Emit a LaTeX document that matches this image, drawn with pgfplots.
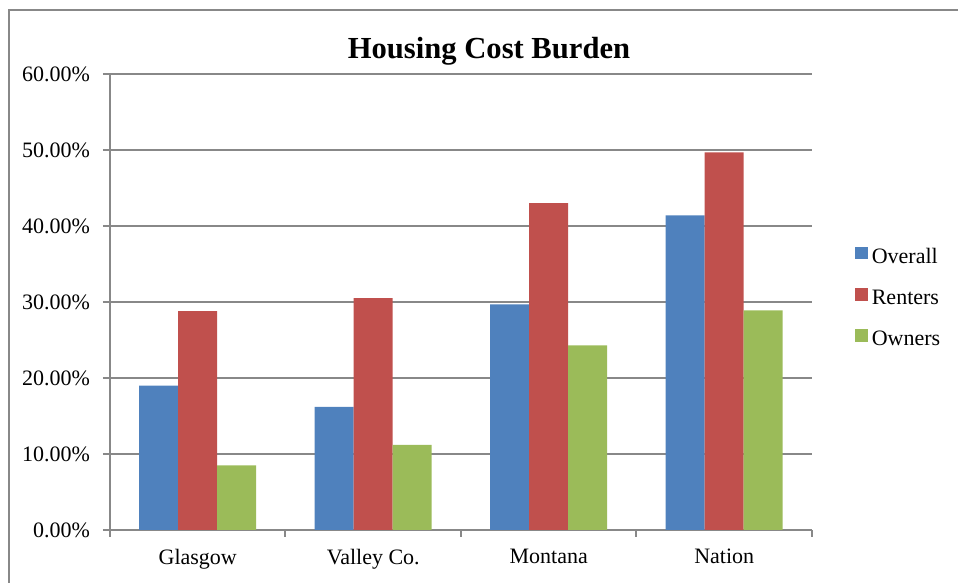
\documentclass[border=0pt]{standalone}
\usepackage{fontspec}
\setmainfont{Liberation Serif}
\usepackage{pgfplots}
\pgfplotsset{compat=1.18}
\definecolor{cBlue}{HTML}{4F81BD}
\definecolor{cRed}{HTML}{C0504D}
\definecolor{cGreen}{HTML}{9BBB59}
\definecolor{gridcol}{HTML}{888888}

\begin{document}
\begin{tikzpicture}[x=1pt,y=1pt]
\useasboundingbox (0,0) rectangle (479,291.5);
% chart frame (cut off at right and bottom)
\draw[gridcol, line width=1pt] (4.5,-5) -- (4.5,286.5) -- (490,286.5);
\node[font=\fontsize{15.3}{18}\selectfont\bfseries] at (244.5,266) {Housing Cost Burden};
\begin{axis}[
    at={(55pt,26.5pt)}, anchor=south west,
    scale only axis, width=351pt, height=228pt,
    ybar=0pt, bar width=19.5pt,
    xmin=-0.5, xmax=3.5, ymin=0, ymax=60,
    xtick={-0.5,0.5,1.5,2.5,3.5}, xticklabels={},
    extra x ticks={0,1,2,3},
    extra x tick labels={Glasgow,Valley Co.,Montana,Nation},
    extra x tick style={major tick length=0pt},
    ytick={0,10,...,60},
    yticklabel={\pgfmathprintnumber[fixed,fixed zerofill,precision=2]{\tick}\%},
    /pgf/number format/assume math mode=true,
    axis x line=bottom, axis y line=left,
    axis line style={-, gridcol, line width=1pt},
    ymajorgrids, grid style={gridcol, line width=1pt},
    tick align=outside, major tick length=3.5pt,
    tick style={gridcol, line width=1pt},
    ticklabel style={font=\fontsize{11}{13}\selectfont},
    xticklabel style={yshift=-6pt},
    yticklabel style={xshift=-3pt},
    legend style={at={(1.061,0.508)}, anchor=west, draw=none, inner sep=0pt,
        font=\fontsize{11}{13}\selectfont, row sep=7.8pt},
    legend cell align=left,
    legend image code/.code={\fill[#1] (-0.5pt,-1pt) rectangle (5.8pt,5.3pt);},
]
\addplot[fill=cBlue, draw=none] coordinates {(0,19.0) (1,16.2) (2,29.7) (3,41.4)};
\addplot[fill=cRed, draw=none] coordinates {(0,28.8) (1,30.5) (2,43.0) (3,49.7)};
\addplot[fill=cGreen, draw=none] coordinates {(0,8.5) (1,11.2) (2,24.3) (3,28.9)};
\legend{Overall,Renters,Owners}
\end{axis}
\end{tikzpicture}
\end{document}
